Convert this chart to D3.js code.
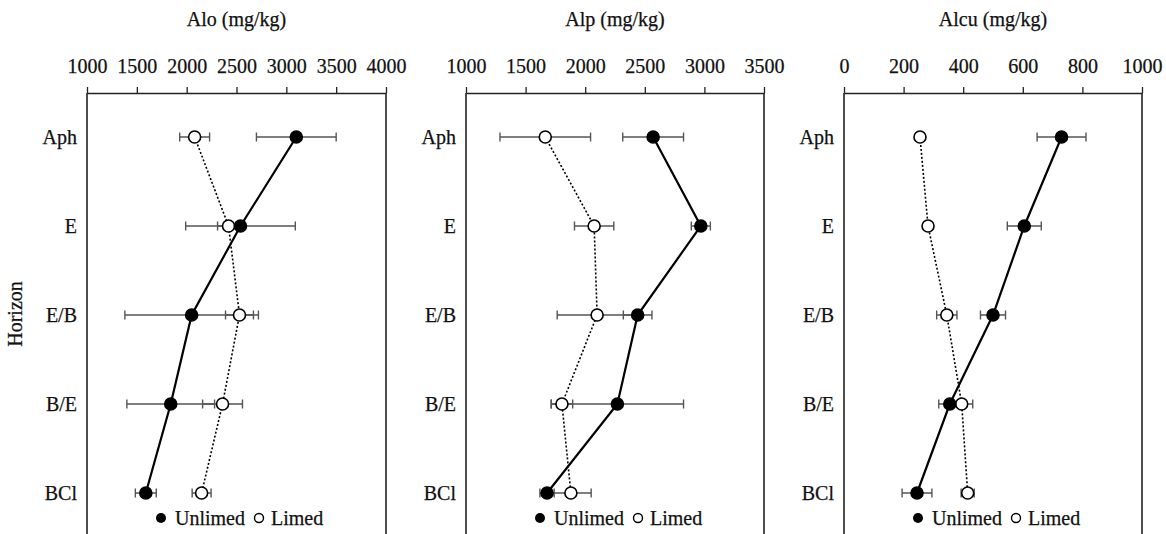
<!DOCTYPE html>
<html>
<head>
<meta charset="utf-8">
<script src="https://cdn.jsdelivr.net/npm/d3@7"></script>
<style>
  body { margin: 0; background: #fff; }
  svg text { font-family: "Liberation Serif", "Times New Roman", serif; fill: #111; stroke: #111; stroke-width: 0.25px; }
</style>
</head>
<body>
<svg id="chart" width="1166" height="534"></svg>
<script>
// horizons, top to bottom
const horizons = ["Aph", "E", "E/B", "B/E", "BCl"];

// Alo (mg/kg)
const aloTicks = [1000, 1500, 2000, 2500, 3000, 3500, 4000];
const aloUnlimed = [3100, 2540, 2050, 1840, 1590];
const aloUnlimedErr = [400, 550, 670, 440, 105];
const aloLimed = [2080, 2420, 2530, 2360, 2150];
const aloLimedErr = [150, 110, 140, 200, 95];

// Alp (mg/kg)
const alpTicks = [1000, 1500, 2000, 2500, 3000, 3500];
const alpUnlimed = [2570, 2970, 2440, 2270, 1680];
const alpUnlimedErr = [255, 80, 120, 555, 60];
const alpLimed = [1665, 2075, 2100, 1805, 1880];
const alpLimedErr = [380, 165, 335, 90, 170];

// Alcu (mg/kg)
const alcuTicks = [0, 200, 400, 600, 800, 1000];
const alcuUnlimed = [730, 605, 500, 355, 245];
const alcuUnlimedErr = [82, 57, 42, 37, 50];
const alcuLimed = [255, 282, 345, 395, 415];
const alcuLimedErr = [10, 10, 34, 37, 22];

const panels = [
  { title: "Alo (mg/kg)", ticks: aloTicks, left: 87, right: 386,
    unlimed: aloUnlimed, unlimedErr: aloUnlimedErr, limed: aloLimed, limedErr: aloLimedErr },
  { title: "Alp (mg/kg)", ticks: alpTicks, left: 466, right: 764,
    unlimed: alpUnlimed, unlimedErr: alpUnlimedErr, limed: alpLimed, limedErr: alpLimedErr },
  { title: "Alcu (mg/kg)", ticks: alcuTicks, left: 844, right: 1142,
    unlimed: alcuUnlimed, unlimedErr: alcuUnlimedErr, limed: alcuLimed, limedErr: alcuLimedErr }
];

const svg = d3.select("#chart");
const boxTop = 93, boxBottom = 535;
const fs = "20px";

const y = d3.scalePoint().domain(horizons).range([137, 493]);

svg.append("text")
  .attr("transform", `translate(22,314) rotate(-90)`)
  .attr("text-anchor", "middle")
  .style("font-size", fs)
  .text("Horizon");

panels.forEach(p => {
  const g = svg.append("g");
  const x = d3.scaleLinear()
    .domain([p.ticks[0], p.ticks[p.ticks.length - 1]])
    .range([p.left, p.right]);

  // title
  g.append("text")
    .attr("x", (p.left + p.right) / 2).attr("y", 26)
    .attr("text-anchor", "middle")
    .style("font-size", fs)
    .text(p.title);

  // top axis
  const axis = g.append("g")
    .attr("transform", `translate(0,${boxTop})`)
    .call(d3.axisTop(x).tickValues(p.ticks).tickFormat(d3.format("d"))
      .tickSize(6).tickSizeOuter(0).tickPadding(14));
  axis.select(".domain").attr("stroke", "#222").attr("stroke-width", 1.6);
  axis.selectAll(".tick line").attr("stroke", "#222").attr("stroke-width", 1.3);
  axis.selectAll(".tick text")
    .style("font-size", fs)
    .style("font-family", "'Liberation Serif', 'Times New Roman', serif")
    .attr("fill", "#111");

  // box sides
  g.append("path")
    .attr("d", `M${p.left},${boxTop}V${boxBottom}M${p.right},${boxTop}V${boxBottom}`)
    .attr("stroke", "#222").attr("stroke-width", 1.6).attr("fill", "none");

  // category labels
  g.selectAll(".cat").data(horizons).enter().append("text")
    .attr("x", p.left - 10).attr("y", d => y(d)).attr("dy", "0.35em")
    .attr("text-anchor", "end")
    .style("font-size", fs)
    .text(d => d);

  const series = [
    { vals: p.limed, err: p.limedErr, fill: "#fff", dash: "2,2", width: 1.6 },
    { vals: p.unlimed, err: p.unlimedErr, fill: "#000", dash: null, width: 2.2 }
  ];

  // error bars
  series.forEach(s => {
    const eb = g.append("g").attr("stroke", "#555").attr("stroke-width", 1.4).attr("fill", "none");
    horizons.forEach((h, i) => {
      const x0 = x(s.vals[i] - s.err[i]), x1 = x(s.vals[i] + s.err[i]), yy = y(h);
      eb.append("path")
        .attr("d", `M${x0},${yy}H${x1}M${x0},${yy - 4.5}V${yy + 4.5}M${x1},${yy - 4.5}V${yy + 4.5}`);
    });
  });

  // lines
  series.forEach(s => {
    const line = d3.line().x(d => x(d[0])).y(d => y(d[1]));
    g.append("path")
      .datum(horizons.map((h, i) => [s.vals[i], h]))
      .attr("d", line)
      .attr("fill", "none")
      .attr("stroke", "#000")
      .attr("stroke-width", s.width)
      .attr("stroke-dasharray", s.dash);
  });

  // markers
  series.forEach(s => {
    g.selectAll(null).data(horizons).enter().append("circle")
      .attr("cx", (h, i) => x(s.vals[i]))
      .attr("cy", h => y(h))
      .attr("r", 6)
      .attr("fill", s.fill)
      .attr("stroke", "#000")
      .attr("stroke-width", 1.6);
  });

  // legend
  const ly = 518;
  g.append("circle").attr("cx", p.left + 74).attr("cy", ly).attr("r", 5).attr("fill", "#000");
  g.append("text").attr("x", p.left + 88).attr("y", ly).attr("dy", "0.35em")
    .style("font-size", fs).text("Unlimed");
  g.append("circle").attr("cx", p.left + 172).attr("cy", ly).attr("r", 4.5)
    .attr("fill", "#fff").attr("stroke", "#000").attr("stroke-width", 1.4);
  g.append("text").attr("x", p.left + 184).attr("y", ly).attr("dy", "0.35em")
    .style("font-size", fs).text("Limed");
});
</script>
</body>
</html>
